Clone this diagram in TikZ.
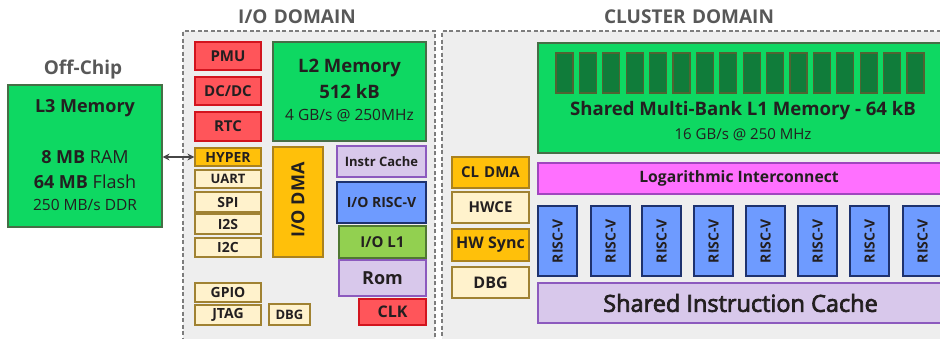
\documentclass[tikz,border=0pt]{standalone}
\usepackage{fontspec}
\setmainfont{Open Sans}
\newfontfamily\semib[FakeBold=3]{Open Sans}
\usetikzlibrary{arrows.meta}
\definecolor{mgreen}{RGB}{14,216,98}
\definecolor{mgreenb}{RGB}{70,110,70}
\definecolor{bankg}{RGB}{16,124,58}
\definecolor{bankb}{RGB}{80,100,50}
\definecolor{mred}{RGB}{255,85,90}
\definecolor{mredb}{RGB}{210,20,30}
\definecolor{mgold}{RGB}{255,192,10}
\definecolor{mgoldb}{RGB}{170,130,30}
\definecolor{mcream}{RGB}{255,242,204}
\definecolor{mcreamb}{RGB}{160,130,50}
\definecolor{mlav}{RGB}{216,200,235}
\definecolor{mlavb}{RGB}{140,90,190}
\definecolor{mblue}{RGB}{110,155,255}
\definecolor{mblueb}{RGB}{30,50,110}
\definecolor{mlg}{RGB}{146,208,80}
\definecolor{mlgb}{RGB}{80,120,50}
\definecolor{mmag}{RGB}{255,112,255}
\definecolor{mmagb}{RGB}{160,70,190}
\definecolor{mbg}{RGB}{238,238,238}
\definecolor{mdash}{RGB}{125,125,125}
\definecolor{mtitle}{RGB}{88,88,88}
\definecolor{mtext}{RGB}{35,31,32}
\newcommand\fs[1]{\fontsize{#1}{#1}\selectfont}
\newcommand\bx[7]{\node[#2, minimum width={#5-#3}, minimum height={#6-#4}] (#1) at ({(#3+#5)/2},{(#4+#6)/2}) {#7};}
\tikzset{
  basebox/.style={rectangle, draw, line width=1.2pt, inner sep=0pt, text=mtext, font=\bfseries\fs{15}},
  greenbox/.style={basebox, fill=mgreen, draw=mgreenb},
  bankbox/.style={basebox, fill=bankg, draw=bankb},
  redbox/.style={basebox, fill=mred, draw=mredb},
  goldbox/.style={basebox, fill=mgold, draw=mgoldb},
  creambox/.style={basebox, fill=mcream, draw=mcreamb},
  lavbox/.style={basebox, fill=mlav, draw=mlavb},
  bluebox/.style={basebox, fill=mblue, draw=mblueb},
  lgbox/.style={basebox, fill=mlg, draw=mlgb},
  magbox/.style={basebox, fill=mmag, draw=mmagb},
  domainbox/.style={rectangle, draw=mdash, fill=mbg, line width=1.5pt, dash pattern=on 4pt off 2.5pt, inner sep=0pt},
  ttl/.style={text=mtitle, font=\bfseries\fs{19}, inner sep=0pt},
  txt/.style={text=mtext, inner sep=0pt},
}
\begin{document}
\begin{tikzpicture}[x=1pt,y=-1pt]
\useasboundingbox (0,0) rectangle (940,338);
\clip (0,0) rectangle (940,338);
% domains
\bx{iod}{domainbox}{183}{31}{435}{345}{}
\bx{cld}{domainbox}{442}{31}{960}{345}{}
\node[ttl] (iot) at (297,17) {I/O\,\,DOMAIN};
\node[ttl] (clt) at (689,17) {CLUSTER\,\,DOMAIN};
\node[ttl, font=\bfseries\fs{19}] (oct) at (83,70) {Off-Chip};
% off-chip
\bx{l3}{greenbox}{8}{85}{162}{227}{}
\node[txt, font=\bfseries\fs{18}] (l3a) at (85,108) {L3 Memory};
\node[txt, font=\fs{18}] (l3b) at (85,157) {\textbf{8 MB} RAM};
\node[txt, font=\fs{18}] (l3c) at (85,182) {\textbf{64 MB} Flash};
\node[txt, font=\fs{15.5}] (l3d) at (85,205) {250 MB/s DDR};
% io domain
\bx{pmu}{redbox}{195}{42}{261}{70}{PMU}
\bx{dcdc}{redbox}{195}{77}{261}{105}{DC/DC}
\bx{rtc}{redbox}{195}{112}{261}{141}{RTC}
\bx{hyper}{goldbox}{195}{148}{261}{166}{\fs{14}HYPER}
\bx{uart}{creambox}{195}{170}{261}{188}{\fs{13}UART}
\bx{spi}{creambox}{195}{192}{261}{212}{\fs{14}SPI}
\bx{i2s}{creambox}{195}{214}{261}{234}{\fs{14}I2S}
\bx{i2c}{creambox}{195}{238}{261}{257}{\fs{14}I2C}
\bx{gpio}{creambox}{195}{283}{261}{302}{\fs{14}GPIO}
\bx{jtag}{creambox}{195}{305}{261}{325}{\fs{14}JTAG}
\bx{dbgio}{creambox}{269}{304}{310}{325}{\fs{13}DBG}
\bx{l2}{greenbox}{273}{42}{426}{141}{}
\node[txt, font=\bfseries\fs{18.5}] (l2a) at (349.5,68) {L2 Memory};
\node[txt, font=\bfseries\fs{18.5}] (l2b) at (349.5,92) {512 kB};
\node[txt, font=\fs{15.5}] (l2c) at (349.5,116) {4 GB/s @ 250MHz};
\bx{iodma}{goldbox}{273}{147}{323}{257}{}
\node[txt, font=\bfseries\fs{18}, rotate=90] (iodmat) at (298,200) {I/O DMA};
\bx{icache}{lavbox}{337}{146}{426}{177}{\fs{13}Instr Cache}
\bx{iorv}{bluebox}{337}{182}{426}{223}{\fs{14}I/O RISC-V}
\bx{iol1}{lgbox}{339}{226}{426}{258}{\fs{15}I/O L1}
\bx{rom}{lavbox}{339}{260}{426}{296}{\fs{18}Rom}
\bx{clk}{redbox}{359}{299}{426}{325}{\fs{16}CLK}
\draw[line width=1.3pt, color=mtitle!80!black, {Stealth[length=7pt,width=7pt]}-{Stealth[length=7pt,width=7pt]}] (l3.east |- 0,157) -- (hyper.west |- 0,157);
% cluster domain
\bx{l1}{greenbox}{538}{43}{960}{153}{}
\foreach \i in {0,...,15} {
  \pgfmathsetmacro{\xa}{556+\i*23.4}
  \pgfmathsetmacro{\xb}{\xa+17}
  \bx{bank\i}{bankbox}{\xa}{53}{\xb}{93}{}
}
\node[txt, font=\bfseries\fs{18.6}] (l1a) at (743,111) {Shared Multi-Bank L1 Memory - 64 kB};
\node[txt, font=\fs{15}] (l1b) at (743,135) {16 GB/s @ 250 MHz};
\bx{cldma}{goldbox}{452}{157}{529}{188}{CL\,\,DMA}
\bx{hwce}{creambox}{452}{192}{529}{223}{HWCE}
\bx{hwsync}{goldbox}{452}{229}{529}{261}{\fs{16}HW Sync}
\bx{dbgcl}{creambox}{452}{267}{529}{298}{\fs{16}DBG}
\bx{logint}{magbox}{538}{163}{960}{194}{}
\node[txt, font=\bfseries\fs{15.7}] (logt) at (739,178.5) {Logarithmic Interconnect};
\foreach \x [count=\k] in {538,591,642,694,746,798,850,903} {
  \pgfmathsetmacro{\xe}{\x+39}
  \bx{core\k}{bluebox}{\x}{206}{\xe}{276}{}
  \node[txt, font=\bfseries\fs{14}, rotate=90] (coret\k) at (\x+19.5,241) {RISC-V};
}
\bx{sic}{lavbox}{538}{283}{960}{323}{}
\node[txt, font=\semib\fs{23.5}] (sict) at (740.5,303) {Shared Instruction Cache};
\end{tikzpicture}
\end{document}
